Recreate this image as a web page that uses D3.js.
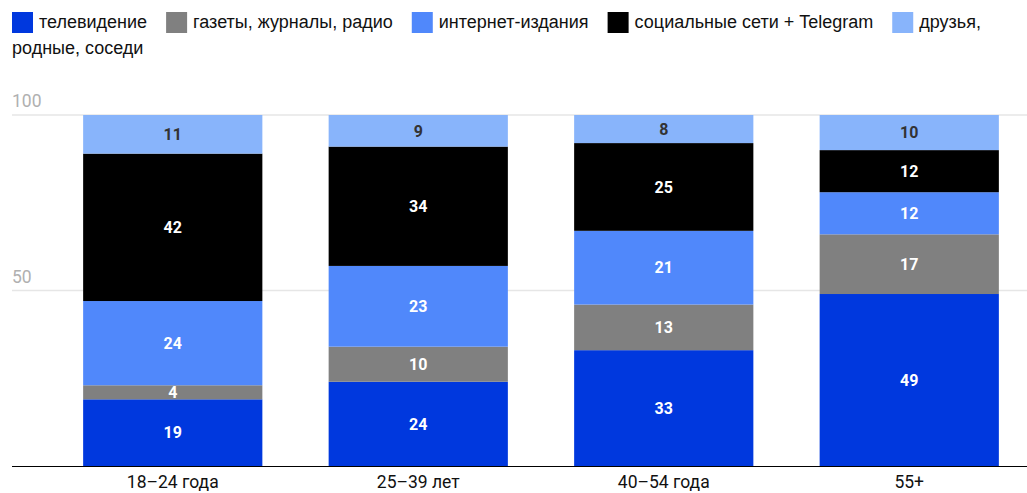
<!DOCTYPE html>
<html>
<head>
<meta charset="utf-8">
<script src="https://cdn.jsdelivr.net/npm/d3@7"></script>
<style>
  body { margin: 0; background: #fff; }
</style>
</head>
<body>
<svg id="chart" width="1027" height="493"></svg>
<script>
var ageGroups = ["18–24 года", "25–39 лет", "40–54 года", "55+"];
var sources = ["телевидение", "газеты, журналы, радио", "интернет-издания", "социальные сети + Telegram", "друзья, родные, соседи"];
var colors = ["#0038de", "#808080", "#5088fb", "#000000", "#88b4fb"];
var labelColors = ["#fff", "#fff", "#fff", "#fff", "#333"];

// values per source, in age group order
var tv       = [19, 24, 33, 49];
var press    = [4, 10, 13, 17];
var internet = [24, 23, 21, 12];
var social   = [42, 34, 25, 12];
var friends  = [11, 9, 8, 10];
var yTicks = [50, 100];

var series = [tv, press, internet, social, friends];

var svg = d3.select("#chart");

// legend: items flow left to right, the last one wraps word by word
var legend = svg.append("g")
  .attr("font-family", "'Liberation Sans', Arial, Helvetica, sans-serif")
  .attr("font-size", "18px")
  .attr("fill", "#111");

var lx = 12, row = 0, maxX = 1012, lineH = 26;
sources.forEach(function (s, i) {
  legend.append("rect")
    .attr("x", lx)
    .attr("y", 12 + row * lineH)
    .attr("width", 21)
    .attr("height", 21)
    .attr("fill", colors[i]);
  lx += 27;
  var words = s.split(" ");
  var t = legend.append("text")
    .attr("x", lx)
    .attr("y", 28 + row * lineH)
    .text(words[0]);
  for (var w = 1; w < words.length; w++) {
    var prev = t.text();
    t.text(prev + " " + words[w]);
    if (lx + t.node().getComputedTextLength() > maxX) {
      t.text(prev);
      row++;
      lx = 12;
      t = legend.append("text")
        .attr("x", lx)
        .attr("y", 28 + row * lineH)
        .text(words[w]);
    }
  }
  lx += t.node().getComputedTextLength() + 19;
});

var x = d3.scaleBand()
  .domain(ageGroups)
  .range([50, 1032])
  .paddingInner(0.27)
  .paddingOuter(0.135);

var y = d3.scaleLinear()
  .domain([0, 100])
  .range([466, 115]);

// gridlines
svg.selectAll(".grid")
  .data(yTicks)
  .enter()
  .append("line")
  .attr("x1", 12)
  .attr("x2", 1027)
  .attr("y1", function (d) { return y(d); })
  .attr("y2", function (d) { return y(d); })
  .attr("stroke", "#e6e6e6")
  .attr("stroke-width", 1.5);

svg.selectAll(".ytick")
  .data(yTicks)
  .enter()
  .append("text")
  .attr("x", 12)
  .attr("y", function (d) { return y(d) - 8; })
  .attr("font-family", "Roboto, sans-serif")
  .attr("font-size", "17.5px")
  .attr("fill", "#b0b0b0")
  .text(function (d) { return d; });

// stack the data
var rows = ageGroups.map(function (g, j) {
  var r = { group: g };
  sources.forEach(function (s, i) { r[s] = series[i][j]; });
  return r;
});
var stacked = d3.stack().keys(sources)(rows);

var layers = svg.selectAll(".layer")
  .data(stacked)
  .enter()
  .append("g")
  .attr("fill", function (d, i) { return colors[i]; });

layers.selectAll("rect")
  .data(function (d) { return d; })
  .enter()
  .append("rect")
  .attr("x", function (d) { return x(d.data.group); })
  .attr("width", x.bandwidth())
  .attr("y", function (d) { return y(d[1]); })
  .attr("height", function (d) { return y(d[0]) - y(d[1]); });

// value labels
stacked.forEach(function (layer, i) {
  svg.selectAll(".lbl" + i)
    .data(layer)
    .enter()
    .append("text")
    .attr("x", function (d) { return x(d.data.group) + x.bandwidth() / 2; })
    .attr("y", function (d) { return (y(d[0]) + y(d[1])) / 2; })
    .attr("dy", "0.36em")
    .attr("text-anchor", "middle")
    .attr("font-family", "Roboto, sans-serif")
    .attr("font-weight", "bold")
    .attr("font-size", "16px")
    .attr("fill", labelColors[i])
    .text(function (d) { return d[1] - d[0]; });
});

// baseline and x axis
svg.append("line")
  .attr("x1", 12)
  .attr("x2", 1027)
  .attr("y1", y(0) + 0.5)
  .attr("y2", y(0) + 0.5)
  .attr("stroke", "#000")
  .attr("stroke-width", 1);

var xAxis = svg.append("g")
  .attr("transform", "translate(0," + y(0) + ")")
  .call(d3.axisBottom(x).tickSize(0).tickPadding(10));
xAxis.select(".domain").remove();
xAxis.selectAll("text")
  .attr("font-family", "Roboto, sans-serif")
  .attr("font-size", "17.5px")
  .attr("fill", "#111");
</script>
</body>
</html>
